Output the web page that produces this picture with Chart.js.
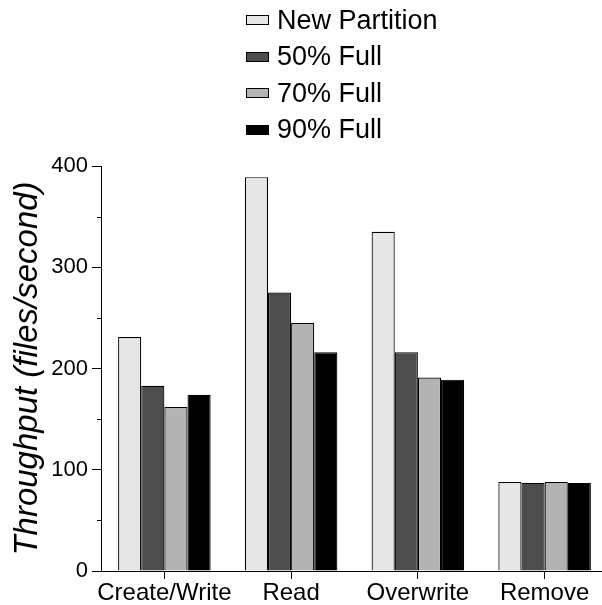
<!DOCTYPE html>
<html>
<head>
<meta charset="utf-8">
<script src="https://cdn.jsdelivr.net/npm/chart.js@4/dist/chart.umd.min.js"></script>
<style>
    html, body { margin: 0; padding: 0; background: #fff; overflow: hidden; }
    #wrap { position: relative; width: 602px; height: 605px; overflow: hidden; }
    #chart-box { position: absolute; left: 0; top: 0; width: 608px; height: 605px; }
    #legend { position: absolute; left: 246px; top: 2px; font-family: "Liberation Sans", Arial, sans-serif; font-size: 27px; color: #000; }
    #legend .row { display: flex; align-items: center; height: 36.5px; }
    #legend .sw { width: 21px; height: 8px; border: 1px solid #000; margin-right: 8px; }
</style>
</head>
<body>
<div id="wrap">
    <div id="chart-box"><canvas id="chart"></canvas></div>
    <div id="legend"></div>
</div>
<script>
// values (files/second)
const categories = ['Create/Write', 'Read', 'Overwrite', 'Remove'];
const seriesNames = ['New Partition', '50% Full', '70% Full', '90% Full'];
const newPartition = [231, 389, 335, 88];
const full50 = [183, 275, 216, 87];
const full70 = [162, 245, 191, 88];
const full90 = [174, 216, 189, 87];
const yTicks = [0, 100, 200, 300, 400];
const yMinorTicks = [50, 150, 250, 350];

const fills = ['#e6e6e6', '#4d4d4d', '#b3b3b3', '#000000'];
const font = '"Liberation Sans", Arial, sans-serif';

// short outward minor ticks on the y axis
const minorTicks = {
    id: 'minorTicks',
    afterDraw(chart) {
        const y = chart.scales.y;
        const ctx = chart.ctx;
        ctx.save();
        ctx.strokeStyle = '#000';
        ctx.lineWidth = 1;
        yMinorTicks.forEach(v => {
            const py = Math.round(y.getPixelForValue(v)) + 0.5;
            ctx.beginPath();
            ctx.moveTo(y.right - 4, py);
            ctx.lineTo(y.right, py);
            ctx.stroke();
        });
        ctx.restore();
    }
};

const data = {
    labels: categories,
    datasets: [newPartition, full50, full70, full90].map((vals, i) => ({
        label: seriesNames[i],
        data: vals,
        backgroundColor: fills[i],
        borderColor: '#000',
        borderWidth: 1.2,
        borderSkipped: 'bottom',
        categoryPercentage: 0.73,
        barPercentage: 1.0
    }))
};

new Chart(document.getElementById('chart'), {
    type: 'bar',
    data: data,
    plugins: [minorTicks],
    options: {
        responsive: true,
        maintainAspectRatio: false,
        animation: false,
        layout: { padding: { top: 166, right: 0, left: 0, bottom: 0 } },
        plugins: {
            legend: { display: false },
            tooltip: { enabled: false }
        },
        scales: {
            x: {
                grid: { display: true, drawOnChartArea: false, offset: false, tickLength: 8, color: '#000' },
                border: { display: true, color: '#000', width: 1 },
                ticks: { color: '#000', font: { family: font, size: 24 }, padding: 0, maxRotation: 0, autoSkip: false },
                afterFit: s => { s.height = 34; }
            },
            y: {
                min: 0,
                max: 400,
                afterBuildTicks: s => { s.ticks = yTicks.map(v => ({ value: v })); },
                grid: { display: true, drawOnChartArea: false, tickLength: 9, color: '#000' },
                border: { display: true, color: '#000', width: 1 },
                ticks: { color: '#000', font: { family: font, size: 22 }, padding: 4 },
                title: {
                    display: true,
                    text: 'Throughput (files/second)',
                    color: '#000',
                    font: { family: font, size: 33, style: 'italic' },
                    padding: { top: 8, bottom: 0 }
                },
                afterFit: s => { s.width = 101; }
            }
        }
    }
});

// legend stacked vertically above the plot, built from the datasets
document.getElementById('legend').innerHTML = data.datasets.map(ds =>
    `<div class="row"><span class="sw" style="background:${ds.backgroundColor}"></span>${ds.label}</div>`
).join('');
</script>
</body>
</html>
